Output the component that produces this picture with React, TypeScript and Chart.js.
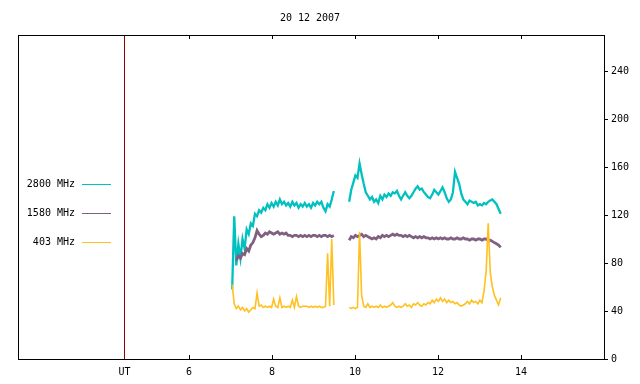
import React, { useEffect, useRef } from "react";
import { Chart, registerables } from "chart.js";

Chart.register(...registerables);

const chartTitle = "20 12 2007";
const seriesLabels = ["2800 MHz", "1580 MHz", "403 MHz"];
const seriesColors = ["#00c0c0", "#806080", "#ffc020"];
const utLabel = "UT";
const utPosition = 4.446;
const xTicks = [6, 8, 10, 12, 14];
const yTicks = [0, 40, 80, 120, 160, 200, 240];
const xMin = 1.88;
const xMax = 16;
const yMin = 0;
const yMax = 270;

// sampling grid of the two observing segments (hours UT)
const segAStart = 7.04;
const segBStart = 9.86;
const sampleStep = 0.05;
const gapTime = 9.67;

const mhz2800A = [58, 119, 78, 96, 84, 100, 92, 108, 104, 113, 111, 121, 119, 124, 122, 126, 124, 129, 126, 130, 127, 131, 128, 133, 129, 131, 128, 130, 127, 131, 128, 130, 126, 129, 127, 130, 127, 129, 126, 130, 128, 131, 129, 131, 126, 123, 129, 127, 133, 140];
const mhz2800B = [131, 141, 147, 153, 151, 163, 154, 146, 139, 136, 133, 135, 131, 133, 130, 136, 133, 137, 135, 138, 136, 139, 138, 140, 136, 133, 136, 139, 136, 134, 136, 139, 142, 144, 141, 142, 139, 137, 135, 134, 137, 141, 139, 137, 140, 143, 139, 134, 131, 133, 139, 156, 151, 146, 138, 133, 131, 129, 132, 131, 130, 131, 128, 129, 128, 130, 129, 131, 132, 133, 131, 129, 125, 121];

const mhz1580A = [null, null, 82, 86, 84, 88, 87, 92, 90, 95, 97, 101, 107, 104, 102, 103, 105, 104, 106, 105, 104, 105, 106, 104, 105, 104, 105, 103, 103, 102, 103, 103, 102, 103, 102, 103, 102, 103, 102, 103, 103, 102, 103, 102, 103, 103, 102, 103, 102, 103];
const mhz1580B = [99, 102, 101, 103, 102, 103, 104, 102, 103, 102, 101, 100, 101, 100, 102, 101, 103, 102, 103, 102, 103, 104, 103, 104, 103, 103, 102, 103, 102, 103, 102, 101, 102, 101, 102, 101, 102, 101, 101, 100, 101, 100, 101, 100, 101, 100, 101, 100, 100, 101, 100, 100, 101, 100, 100, 101, 100, 100, 99, 100, 100, 99, 100, 100, 99, 100, 100, 99, 99, 98, 97, 96, 95, 93];

const mhz403A = [62, 46, 42, 44, 41, 43, 40, 42, 39, 41, 43, 42, 55, 44, 45, 43, 44, 43, 44, 43, 50, 44, 43, 51, 43, 44, 43, 44, 43, 49, 43, 52, 44, 43, 44, 44, 44, 43, 44, 43, 44, 43, 44, 43, 43, 44, 88, 44, 100, 45];
const mhz403B = [43, 42, 43, 42, 43, 106, 53, 44, 43, 46, 43, 44, 43, 44, 43, 45, 43, 44, 43, 44, 45, 47, 44, 43, 44, 43, 44, 46, 44, 45, 43, 46, 45, 47, 45, 44, 46, 45, 47, 46, 49, 47, 50, 48, 51, 48, 50, 47, 49, 47, 48, 46, 47, 45, 44, 45, 46, 48, 46, 49, 47, 48, 46, 49, 47, 57, 73, 113, 72, 60, 53, 49, 45, 51];

const FONT = "DejaVu Sans Mono";

function buildPoints(a: (number | null)[], b: (number | null)[]) {
  const pts: { x: number; y: number | null }[] = [];
  a.forEach((v, i) => pts.push({ x: +(segAStart + i * sampleStep).toFixed(3), y: v }));
  pts.push({ x: gapTime, y: null });
  b.forEach((v, i) => pts.push({ x: +(segBStart + i * sampleStep).toFixed(3), y: v }));
  return pts;
}

const framePlugin = {
  id: "gnuplotFrame",
  afterDraw(chart: any) {
    const { ctx, chartArea } = chart;
    const { left, right, top, bottom } = chartArea;
    const xs = chart.scales.x;
    ctx.save();
    ctx.strokeStyle = "#000";
    ctx.lineWidth = 1;
    ctx.strokeRect(Math.round(left) + 0.5, Math.round(top) + 0.5, Math.round(right - left), Math.round(bottom - top));
    ctx.beginPath();
    xTicks.forEach((v) => {
      const px = Math.round(xs.getPixelForValue(v)) + 0.5;
      ctx.moveTo(px, top);
      ctx.lineTo(px, top + 4);
      ctx.moveTo(px, bottom);
      ctx.lineTo(px, bottom - 4);
    });
    ctx.stroke();

    ctx.fillStyle = "#000";
    ctx.font = `10px "${FONT}"`;
    ctx.textAlign = "center";
    ctx.textBaseline = "middle";
    ctx.fillText(chartTitle, 310, 18);

    seriesLabels.forEach((lab, i) => {
      const y = 184 + 29 * i;
      ctx.textAlign = "right";
      ctx.fillStyle = "#000";
      ctx.fillText(lab, 75, y);
      ctx.beginPath();
      ctx.strokeStyle = seriesColors[i];
      ctx.moveTo(82, y + 0.5);
      ctx.lineTo(111, y + 0.5);
      ctx.stroke();
    });
    ctx.restore();
  },
};

export default function App() {
  const ref = useRef<HTMLCanvasElement>(null);
  useEffect(() => {
    document.body.style.margin = "0";
    const canvas = ref.current!;
    const series = [
      { label: seriesLabels[0], data: buildPoints(mhz2800A, mhz2800B), color: seriesColors[0], order: 2, w: 2.3 },
      { label: seriesLabels[1], data: buildPoints(mhz1580A, mhz1580B), color: seriesColors[1], order: 1, w: 2.8 },
      { label: seriesLabels[2], data: buildPoints(mhz403A, mhz403B), color: seriesColors[2], order: 0, w: 1.6 },
    ];
    const chart = new Chart(canvas, {
      type: "line",
      data: {
        datasets: [
          ...series.map((s) => ({
            label: s.label,
            data: s.data,
            borderColor: s.color,
            backgroundColor: s.color,
            borderWidth: s.w,
            pointRadius: 0,
            tension: 0,
            spanGaps: false,
            order: s.order,
          })),
          {
            label: utLabel,
            data: [
              { x: utPosition, y: yMin },
              { x: utPosition, y: yMax },
            ],
            borderColor: "#8b0000",
            borderWidth: 1,
            pointRadius: 0,
            order: 5,
          },
        ],
      },
      options: {
        responsive: false,
        animation: false,
        layout: { padding: { left: 18, top: 35, right: 0, bottom: 0 } },
        plugins: { legend: { display: false }, tooltip: { enabled: false }, title: { display: false } },
        scales: {
          x: {
            type: "linear",
            min: xMin,
            max: xMax,
            position: "bottom",
            grid: { display: false, drawTicks: false },
            border: { display: false },
            afterBuildTicks: (scale: any) => {
              scale.ticks = [utPosition, ...xTicks].map((v) => ({ value: v }));
            },
            afterFit: (scale: any) => {
              scale.height = 25;
            },
            ticks: {
              autoSkip: false,
              maxRotation: 0,
              padding: 7,
              color: "#000",
              font: { family: FONT, size: 10 },
              callback: (v: any) => (v === utPosition ? utLabel : String(v)),
            },
          },
          y: {
            type: "linear",
            min: yMin,
            max: yMax,
            position: "right",
            grid: { display: true, drawOnChartArea: false, drawTicks: true, tickLength: 4, color: "#000" },
            border: { display: false },
            afterBuildTicks: (scale: any) => {
              scale.ticks = yTicks.map((v) => ({ value: v }));
            },
            afterFit: (scale: any) => {
              scale.width = 36;
            },
            ticks: {
              padding: 3,
              color: "#000",
              font: { family: FONT, size: 10 },
            },
          },
        },
      },
      plugins: [framePlugin],
    });
    return () => chart.destroy();
  }, []);
  return (
    <div style={{ position: "absolute", left: 0, top: 0, width: 640, height: 384, background: "#fff" }}>
      <canvas ref={ref} width={640} height={384} />
    </div>
  );
}
